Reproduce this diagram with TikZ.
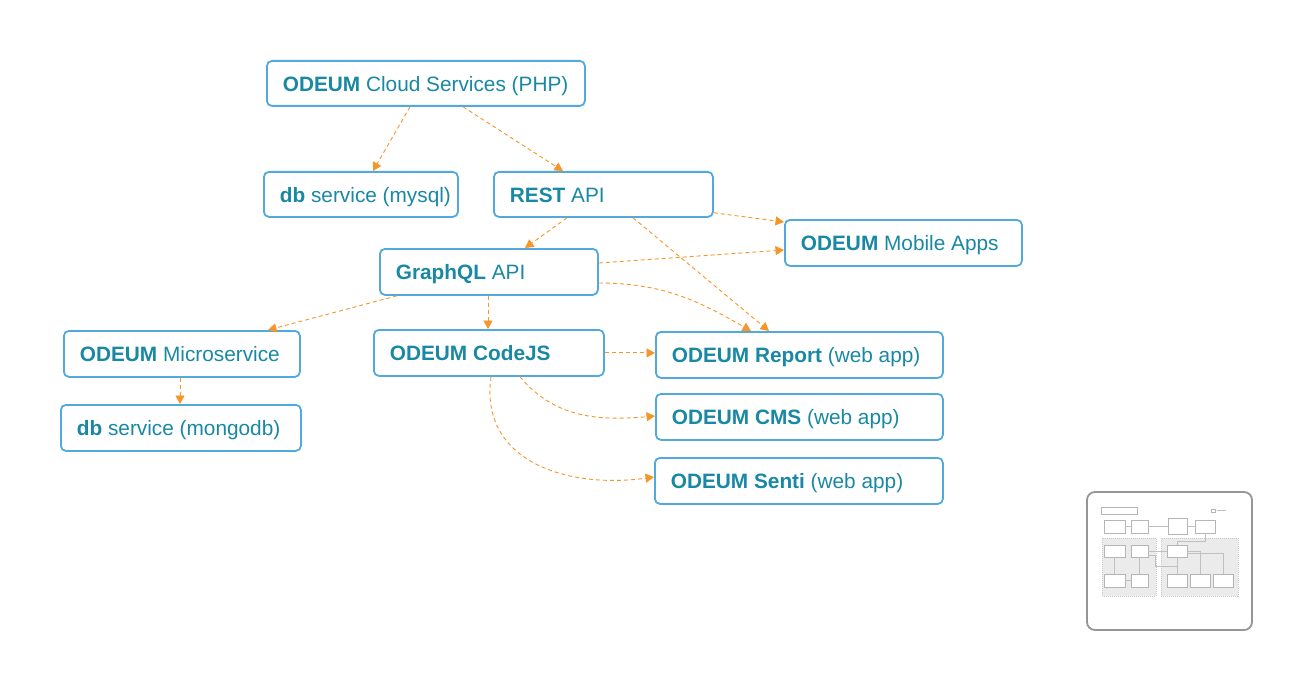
\documentclass[tikz,border=0pt]{standalone}
\usepackage{fontspec}
\setmainfont{Liberation Sans}
\usetikzlibrary{arrows.meta,calc}
\definecolor{boxblue}{RGB}{82,170,220}
\definecolor{txtteal}{RGB}{24,136,164}
\definecolor{arrorange}{RGB}{247,150,40}
\definecolor{mapgrey}{RGB}{150,150,150}
\begin{document}
\begin{tikzpicture}[x=1pt,y=1pt,
  box/.style={draw=boxblue, line width=1.8pt, rounded corners=5pt, fill=white,
    inner xsep=16pt, inner ysep=0pt, anchor=north west, text height=16pt, text depth=0pt,
    text=txtteal, font=\fontsize{20.8}{24}\selectfont},
  arr/.style={draw=arrorange, line width=0.9pt, dash pattern=on 4pt off 3pt,
    -{Triangle[length=8.5pt,width=9pt]}, fill=none},
  mapbox/.style={draw=mapgrey!70, line width=0.5pt, fill=white},
  mapzone/.style={draw=mapgrey!50, line width=0.4pt, dash pattern=on 1pt off 1pt, fill=black!8}
]
\useasboundingbox (0,0) rectangle (1312,-690);
\fill[white] (0,0) rectangle (1312,-690);

\newcommand{\bx}[5]{\node[box, minimum height=#4pt, minimum width=#3pt] (#1) at #2 {\makebox[\dimexpr #3pt-32pt\relax][l]{#5}};}
\bx{cloud}{(266,-60)}{318}{45}{\textbf{ODEUM} Cloud Services (PHP)}
\bx{mysql}{(263,-171)}{194}{45}{\textbf{db} service (mysql)}
\bx{rest}{(493,-171)}{219}{45}{\textbf{REST} API}
\bx{mobile}{(784,-219)}{237}{46}{\textbf{ODEUM} Mobile Apps}
\bx{gql}{(379,-248)}{218}{46}{\textbf{GraphQL} API}
\bx{micro}{(63,-330)}{236}{46}{\textbf{ODEUM} Microservice}
\bx{codejs}{(373,-329)}{230}{46}{\textbf{ODEUM CodeJS}}
\bx{report}{(655,-331)}{287}{46}{\textbf{ODEUM Report} (web app)}
\bx{mongo}{(60,-404)}{240}{46}{\textbf{db} service (mongodb)}
\bx{cms}{(655,-393)}{287}{46}{\textbf{ODEUM CMS} (web app)}
\bx{senti}{(654,-457)}{288}{46}{\textbf{ODEUM Senti} (web app)}

% connectors
\draw[arr] ($(cloud.south west)+(144,0)$) -- ($(mysql.north west)+(110,0)$);
\draw[arr] ($(cloud.south west)+(197,0)$) -- ($(rest.north west)+(70,0)$);
\draw[arr] ($(rest.south east)+(0,5)$) -- ($(mobile.north west)+(0,-3)$);
\draw[arr] ($(rest.south west)+(140,0)$) -- ($(report.north west)+(114,0)$);
\draw[arr] ($(rest.south west)+(74,0)$) -- ($(gql.north west)+(146,0)$);
\draw[arr] ($(gql.north east)+(0,-15)$) -- ($(mobile.north west)+(0,-31)$);
\draw[arr] ($(gql.north east)+(0,-35)$) to[out=0, in=150] ($(report.north west)+(96,0)$);
\draw[arr] ($(gql.south west)+(18,0)$) -- ($(micro.north west)+(205,0)$);
\draw[arr] ($(gql.south west)+(109,0)$) -- ($(codejs.north west)+(115,0)$);
\draw[arr] ($(micro.south west)+(117,0)$) -- ($(mongo.north west)+(120,0)$);
\draw[arr] (codejs.east) -- (report.west |- codejs.east);
\draw[arr] ($(codejs.south west)+(147,0)$) to[out=-50, in=185] ($(cms.north west)+(0,-23)$);
\draw[arr] ($(codejs.south west)+(118,0)$) to[out=-98, in=188, looseness=1.15] ($(senti.north west)+(0,-20)$);

% minimap
\draw[draw=mapgrey, line width=1.8pt, rounded corners=8pt, fill=white] (1087,-492) rectangle (1252,-630);
\draw[mapzone] (1102,-538) rectangle (1156,-596);
\draw[mapzone] (1161,-538) rectangle (1238,-596);
\draw[mapbox] (1101,-507) rectangle (1137,-514);
\draw[mapbox] (1211,-509) rectangle (1215,-512);
\draw[mapgrey!60, line width=0.4pt] (1217,-510.5) -- (1226,-510.5);
\draw[mapbox] (1104,-520) rectangle (1125,-533);
\draw[mapbox] (1131,-520) rectangle (1148,-533);
\draw[mapbox] (1168,-518) rectangle (1187,-534);
\draw[mapbox] (1195,-520) rectangle (1215,-533);
\draw[mapgrey!60, line width=0.4pt] (1125,-526.5) -- (1131,-526.5) (1148,-526.5) -- (1168,-526.5) (1187,-526.5) -- (1195,-526.5);
\draw[mapbox] (1104,-545) rectangle (1125,-557);
\draw[mapbox] (1131,-545) rectangle (1148,-557);
\draw[mapbox] (1104,-574) rectangle (1125,-587);
\draw[mapbox] (1131,-574) rectangle (1148,-587);
\draw[mapbox] (1167,-545) rectangle (1187,-557);
\draw[mapbox] (1167,-574) rectangle (1187,-587);
\draw[mapbox] (1190,-574) rectangle (1210,-587);
\draw[mapbox] (1213,-574) rectangle (1233,-587);
\draw[mapgrey!60, line width=0.4pt]
  (1114.5,-557) -- (1114.5,-574) (1139.5,-557) -- (1139.5,-574) (1125,-580.5) -- (1131,-580.5)
  (1148,-551) -- (1167,-551) (1177,-557) -- (1177,-574) (1187,-551) -- (1200,-551) -- (1200,-574)
  (1187,-553) -- (1223,-553) -- (1223,-574) (1148,-555) -- (1155,-555) -- (1155,-566) -- (1177,-566)
  (1205,-533) -- (1205,-541) -- (1177,-541) -- (1177,-545);
\end{tikzpicture}
\end{document}
